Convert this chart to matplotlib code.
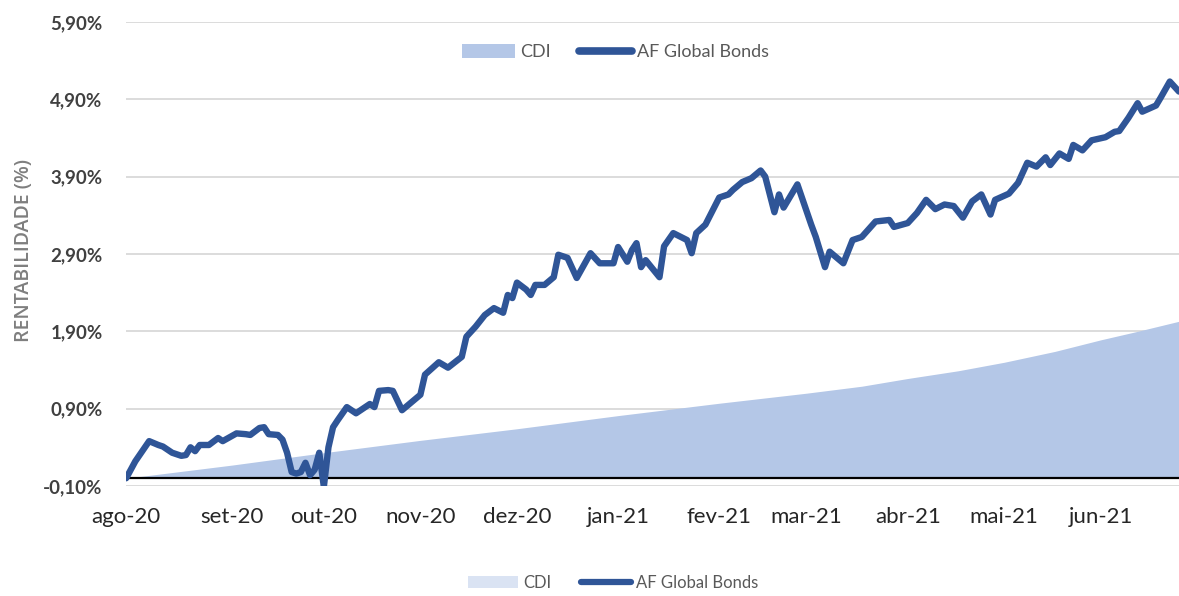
import matplotlib
matplotlib.use("Agg")
from matplotlib import pyplot as plt
from matplotlib.patches import Patch
from matplotlib.lines import Line2D

# trading-day index since start of the period (ago-20)
fund_day = [0, 2, 5, 7, 8, 10, 12, 13, 14, 15, 16, 18, 20, 21, 24, 26, 27, 29, 30, 31,
            33, 34, 35, 36, 37, 38, 39, 40, 41, 42, 43, 44, 45, 46, 48, 50, 51, 53, 54, 55,
            57, 58, 60, 64, 65, 68, 70, 73, 74, 76, 78, 80, 82, 83, 84, 85, 87, 88, 89, 91,
            93, 94, 96, 98, 101, 103, 106, 107, 109, 110, 111, 112, 113, 116, 117, 119, 122, 123, 124, 126,
            129, 131, 132, 134, 136, 138, 139, 141, 142, 143, 146, 149, 150, 152, 153, 156, 158, 160, 163, 166,
            167, 170, 172, 174, 176, 178, 180, 182, 184, 186, 188, 189, 192, 194, 196, 198, 200, 201, 203, 205,
            206, 208, 210, 213, 215, 216, 218, 220, 221, 224, 225, 227, 229]
fund_ret = [0.00, 0.22, 0.48, 0.43, 0.41, 0.33, 0.29, 0.30, 0.40, 0.35, 0.43, 0.43, 0.52, 0.48, 0.58, 0.57, 0.56, 0.65, 0.66, 0.57,
            0.56, 0.50, 0.33, 0.08, 0.06, 0.08, 0.20, 0.04, 0.11, 0.33, -0.11, 0.40, 0.66, 0.75, 0.92, 0.84, 0.88, 0.96, 0.92, 1.13,
            1.14, 1.13, 0.88, 1.08, 1.34, 1.50, 1.43, 1.57, 1.83, 1.96, 2.11, 2.20, 2.14, 2.37, 2.33, 2.53, 2.44, 2.37, 2.50, 2.50,
            2.60, 2.89, 2.85, 2.59, 2.91, 2.78, 2.78, 2.99, 2.80, 2.95, 3.04, 2.73, 2.82, 2.60, 3.00, 3.17, 3.08, 2.91, 3.17, 3.28,
            3.63, 3.67, 3.73, 3.83, 3.88, 3.98, 3.90, 3.44, 3.67, 3.50, 3.80, 3.28, 3.12, 2.73, 2.93, 2.78, 3.08, 3.12, 3.32, 3.34,
            3.25, 3.30, 3.43, 3.60, 3.48, 3.54, 3.52, 3.37, 3.58, 3.67, 3.41, 3.60, 3.68, 3.82, 4.08, 4.03, 4.15, 4.05, 4.20, 4.13,
            4.31, 4.24, 4.37, 4.41, 4.48, 4.49, 4.66, 4.85, 4.74, 4.82, 4.92, 5.13, 5.00]

cdi_day = [0, 23, 43, 64, 85, 107, 118, 129, 148, 160, 170, 181, 191, 202, 212, 220, 229]
cdi_ret = [0.00, 0.17, 0.33, 0.49, 0.64, 0.81, 0.89, 0.97, 1.10, 1.19, 1.29, 1.39, 1.50, 1.64, 1.79, 1.90, 2.03]

month_day = [0, 23, 43, 64, 85, 107, 129, 148, 170, 191, 212]
month_labels = ["ago-20", "set-20", "out-20", "nov-20", "dez-20", "jan-21",
                "fev-21", "mar-21", "abr-21", "mai-21", "jun-21"]

y_ticks = [-0.1, 0.9, 1.9, 2.9, 3.9, 4.9, 5.9]
y_labels = ["-0,10%", "0,90%", "1,90%", "2,90%", "3,90%", "4,90%", "5,90%"]

line_color = "#2f5597"
fill_color = "#b4c7e7"

plt.rcParams["font.family"] = ["Lato", "DejaVu Sans"]

fig = plt.figure(figsize=(11.79, 5.96), dpi=100)
ax = fig.add_axes([0.107, 0.1846, 0.893, 0.7785])

ax.fill_between(cdi_day, 0, cdi_ret, color=fill_color, lw=0, zorder=1)
ax.axhline(0, color="black", lw=1.6, zorder=2)
ax.plot(fund_day, fund_ret, color=line_color, lw=4.6, solid_joinstyle="round",
        solid_capstyle="round", zorder=3)

ax.set_xlim(0, 229)
ax.set_ylim(-0.1, 5.9)
ax.set_yticks(y_ticks)
ax.set_yticklabels(y_labels, fontsize=13.5, fontweight="bold", color="#404040")
ax.set_xticks(month_day)
ax.set_xticklabels(month_labels, fontsize=16, color="#262626")
ax.tick_params(axis="both", length=0)
ax.tick_params(axis="y", pad=17)
ax.tick_params(axis="x", pad=15)
ax.grid(axis="y", color="#d9d9d9", lw=1.3, zorder=0)
ax.set_axisbelow(True)
for s in ax.spines.values():
    s.set_visible(False)

fig.text(0.020, 0.58, "RENTABILIDADE (%)", rotation=90, ha="center", va="center",
         fontsize=14, fontweight="semibold", color="#7f7f7f", family=["Open Sans", "DejaVu Sans"])

# legend inside the chart, at the top
h_top = [Patch(facecolor=fill_color, edgecolor="none"),
         Line2D([0], [0], color=line_color, lw=5.5, solid_capstyle="round")]
ax.legend(h_top, ["CDI", "AF Global Bonds"], loc="center", bbox_to_anchor=(0.465, 0.935),
          ncol=2, frameon=False, fontsize=13, labelcolor="#595959",
          handlelength=2.9, handleheight=0.8, handletextpad=0.3, columnspacing=1.6)

# second legend below the chart
h_bot = [Patch(facecolor="#dae3f3", edgecolor="none"),
         Line2D([0], [0], color=line_color, lw=4.5, solid_capstyle="round")]
fig.legend(h_bot, ["CDI", "AF Global Bonds"], loc="center", bbox_to_anchor=(0.52, 0.022),
           ncol=2, frameon=False, fontsize=12, labelcolor="#595959",
           handlelength=3.0, handleheight=0.8, handletextpad=0.3, columnspacing=1.8)

fig.savefig("out.png", dpi=100)
